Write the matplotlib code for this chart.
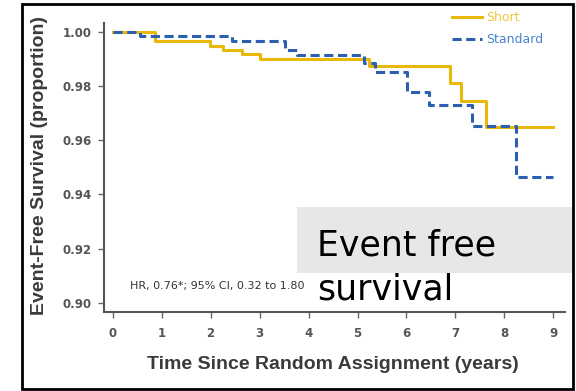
import matplotlib.pyplot as plt
from matplotlib.patches import Rectangle

# Kaplan-Meier steps (years, proportion event-free)
short_t = [0, 0.86, 1.98, 2.25, 2.63, 3.0, 5.24, 6.88, 7.12, 7.63, 9.0]
short_s = [1.000, 0.9964, 0.9948, 0.9933, 0.9918, 0.9900, 0.9874, 0.9812, 0.9745, 0.9648, 0.9648]
std_t = [0, 0.55, 2.43, 3.51, 3.76, 5.14, 5.35, 6.02, 6.47, 7.33, 8.24, 9.0]
std_s = [1.000, 0.9985, 0.9966, 0.9933, 0.9914, 0.9884, 0.9853, 0.9776, 0.9731, 0.9654, 0.9465, 0.9465]

x_ticks = list(range(0, 10))
y_ticks = [0.90, 0.92, 0.94, 0.96, 0.98, 1.00]

yellow = '#e8b90a'
blue = '#2d5fb0'
W, H = 576, 391

fig = plt.figure(figsize=(5.76, 3.91), dpi=100)
ax = fig.add_axes([104 / W, 1 - 312 / H, 461 / W, 289.3 / H])

ax.step(short_t, short_s, where='post', color=yellow, lw=2.2, label='Short')
ax.step(std_t, std_s, where='post', color=blue, lw=2.2, dashes=(3, 1.5), label='Standard')

ax.set_xlim(-0.18, 9.24)
ax.set_ylim(0.8967, 1.0033)
ax.set_xticks(x_ticks)
ax.set_yticks(y_ticks)
ax.set_yticklabels(['%.2f' % v for v in y_ticks])

for s in ['top', 'right']:
    ax.spines[s].set_visible(False)
for s in ['left', 'bottom']:
    ax.spines[s].set_color('#555555')
    ax.spines[s].set_linewidth(1.5)

ax.tick_params(axis='both', colors='#666666', length=4, width=1, labelcolor='#555555')
ax.tick_params(axis='y', pad=5)
ax.tick_params(axis='x', pad=7)
for lab in ax.get_xticklabels() + ax.get_yticklabels():
    lab.set_fontsize(8.5)
    lab.set_fontweight('bold')

lab_font = ['Liberation Sans', 'DejaVu Sans']
ax.set_xlabel('Time Since Random Assignment (years)', fontsize=14, fontweight='bold',
              color='#3a3a3a', family=lab_font)
ax.xaxis.set_label_coords(0.497, -0.152)
ax.set_ylabel('Event-Free Survival (proportion)', fontsize=14, fontweight='bold',
              color='#3a3a3a', family=lab_font)
ax.yaxis.set_label_coords(-0.1215, 0.505)

leg = ax.legend(loc='upper left', bbox_to_anchor=(452 / W, 1 - 11 / H),
                bbox_transform=fig.transFigure, frameon=False, fontsize=9,
                handlelength=2.4, handletextpad=0.3, labelspacing=0.75,
                borderpad=0, borderaxespad=0)
for txt, c in zip(leg.get_texts(), ['#f0c640', '#4a84d0']):
    txt.set_color(c)

ax.text(0.35, 0.9062, 'HR, 0.76*; 95% CI, 0.32 to 1.80', fontsize=8, color='#333333',
        ha='left', va='center')

# caption panel over the lower right corner
fig.patches.append(Rectangle((297 / W, 1 - 273 / H), (573 - 297) / W, 66 / H,
                             transform=fig.transFigure, facecolor='#e8e7e7', edgecolor='none',
                             zorder=5))
fig.text(317 / W, 1 - 256 / H, 'Event free', fontsize=25, color='black',
         ha='left', va='baseline', zorder=6)
fig.text(317 / W, 1 - 299 / H, 'survival', fontsize=25, color='black',
         ha='left', va='baseline', zorder=6)

# outer frame
fig.patches.append(Rectangle((22 / W, 2 / H), 551 / W, 385 / H,
                             transform=fig.transFigure, facecolor='none', edgecolor='black',
                             lw=2, zorder=7))

fig.savefig('out.png', dpi=100)
